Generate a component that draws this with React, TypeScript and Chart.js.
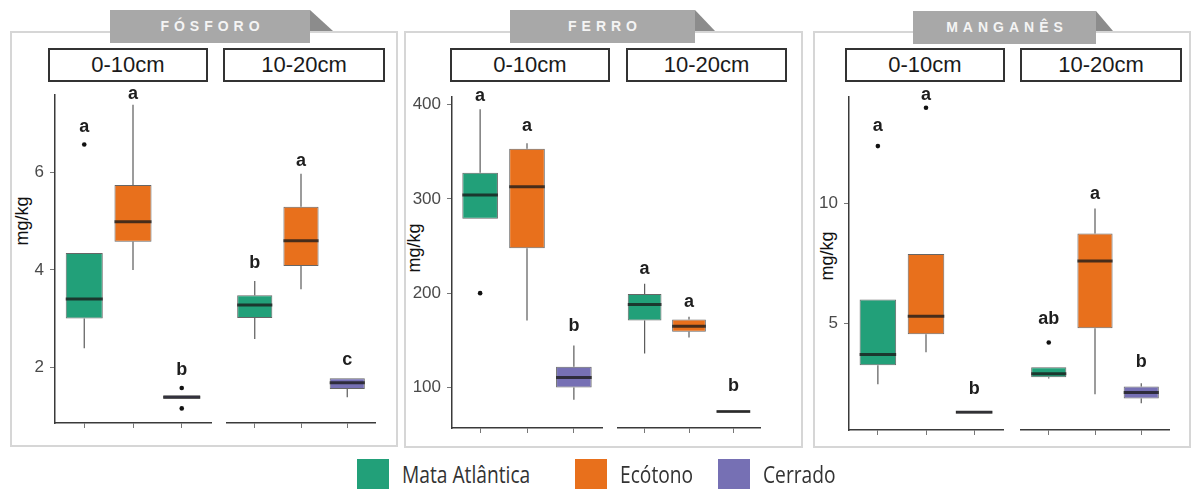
import React, { useEffect, useRef } from "react";
import { Chart, registerables } from "chart.js";

Chart.register(...registerables);

// ---------- data ----------
const categories = ["Mata Atlântica", "Ecótono", "Cerrado"];
const depths = ["0-10cm", "10-20cm"];
const elements = ["FÓSFORO", "FERRO", "MANGANÊS"];
const colors = ["#22a079", "#e8701c", "#7670b4"];
const yTitle = "mg/kg";

// Fósforo  [depth][category]
const fosforoLow = [[2.39, 4.0, 1.35], [2.58, 3.6, 1.38]];
const fosforoQ1 = [[3.0, 4.58, 1.35], [3.01, 4.08, 1.55]];
const fosforoMed = [[3.4, 4.99, 1.38], [3.28, 4.6, 1.68]];
const fosforoQ3 = [[4.35, 5.75, 1.42], [3.48, 5.3, 1.77]];
const fosforoHigh = [[4.35, 7.4, 1.42], [3.77, 5.98, 1.77]];
const fosforoOut = [[[6.58], [], [1.57, 1.15]], [[], [], []]];
const fosforoLetters = [["a", "a", "b"], ["b", "a", "c"]];
const fosforoLetterY = [[6.95, 7.61, 1.94], [4.14, 6.25, 2.14]];
const fosforoTicks = [2, 4, 6];
const fosforoRange = [0.85, 7.6];

// Ferro
const ferroLow = [[278.8, 171, 87], [136, 153, 74]];
const ferroQ1 = [[278.8, 247.7, 100], [171, 159, 73.8]];
const ferroMed = [[304, 312.7, 110.6], [188, 165, 74.5]];
const ferroQ3 = [[327.6, 353, 122], [199, 172, 75.2]];
const ferroHigh = [[395, 359, 144.5], [210, 175, 75.2]];
const ferroOut = [[[200], [], []], [[], [], []]];
const ferroLetters = [["a", "a", "b"], ["a", "a", "b"]];
const ferroLetterY = [[409.5, 377, 164.7], [225.5, 190.5, 101]];
const ferroTicks = [100, 200, 300, 400];
const ferroRange = [57, 408];

// Manganês
const mnLow = [[2.46, 3.8, 1.25], [2.7, 2.04, 1.67]];
const mnQ1 = [[3.25, 4.55, 1.25], [2.75, 4.8, 1.87]];
const mnMed = [[3.7, 5.3, 1.29], [2.9, 7.6, 2.12]];
const mnQ3 = [[6.0, 7.9, 1.35], [3.17, 8.75, 2.37]];
const mnHigh = [[6.0, 7.9, 1.35], [3.17, 9.8, 2.5]];
const mnOut = [[[12.4], [14.0], []], [[4.2], [], []]];
const mnLetters = [["a", "a", "b"], ["ab", "a", "b"]];
const mnLetterY = [[13.25, 14.54, 2.25], [5.17, 10.4, 3.4]];
const mnTicks = [5, 10];
const mnRange = [0.55, 14.45];

// ---------- layout (positions only) ----------
const panels = [
  {
    border: { l: 10, t: 31, w: 388, h: 416 },
    tab: { l: 110, t: 10, w: 200, h: 33 },
    tri: { l: 310, t: 10, w: 23, h: 21 },
    strips: [{ l: 48, w: 160 }, { l: 223, w: 162 }],
    facets: [{ l: 55, w: 156 }, { l: 219, w: 156 }],
    areaTop: 95, areaH: 328, canvasLeft: 12,
    titleC: { x: 22, y: 221 },
  },
  {
    border: { l: 404, t: 31, w: 399, h: 417 },
    tab: { l: 510, t: 10, w: 185, h: 33 },
    tri: { l: 695, t: 10, w: 20, h: 21 },
    strips: [{ l: 450, w: 160 }, { l: 626, w: 161 }],
    facets: [{ l: 452, w: 150 }, { l: 610, w: 150 }],
    areaTop: 97, areaH: 331, canvasLeft: 406,
    titleC: { x: 414, y: 248 },
  },
  {
    border: { l: 813, t: 31, w: 378, h: 417 },
    tab: { l: 913, t: 11, w: 183, h: 33 },
    tri: { l: 1096, t: 11, w: 17, h: 20 },
    strips: [{ l: 845, w: 160 }, { l: 1020, w: 162 }],
    facets: [{ l: 849, w: 154 }, { l: 1013, w: 156 }],
    areaTop: 97, areaH: 333, canvasLeft: 815,
    titleC: { x: 827, y: 256 },
  },
];

const stats = [
  { low: fosforoLow, q1: fosforoQ1, med: fosforoMed, q3: fosforoQ3, high: fosforoHigh, out: fosforoOut, letters: fosforoLetters, letterY: fosforoLetterY, ticks: fosforoTicks, range: fosforoRange },
  { low: ferroLow, q1: ferroQ1, med: ferroMed, q3: ferroQ3, high: ferroHigh, out: ferroOut, letters: ferroLetters, letterY: ferroLetterY, ticks: ferroTicks, range: ferroRange },
  { low: mnLow, q1: mnQ1, med: mnMed, q3: mnQ3, high: mnHigh, out: mnOut, letters: mnLetters, letterY: mnLetterY, ticks: mnTicks, range: mnRange },
];

const FONT = '"Liberation Sans", Arial, sans-serif';

type FacetProps = {
  el: number;
  d: number;
  left: number;
  top: number;
  width: number;
  height: number;
  showY: boolean;
  canvasLeft: number;
};

function Facet({ el, d, left, top, width, height, showY, canvasLeft }: FacetProps) {
  const ref = useRef<HTMLCanvasElement | null>(null);
  const PAD_TOP = 28, X_H = 6, PAD_BOTTOM = 18, SIDE = 8;
  const cl = showY ? canvasLeft : left - SIDE;
  const cw = left + width + SIDE - cl;
  const ct = top - PAD_TOP;
  const ch = PAD_TOP + height + X_H + PAD_BOTTOM;
  const yW = left - cl;

  useEffect(() => {
    const st = stats[el];
    const low = st.low[d], q1 = st.q1[d], med = st.med[d], q3 = st.q3[d], high = st.high[d];
    const out = st.out[d], letters = st.letters[d], letterY = st.letterY[d];

    const extras = {
      id: "boxExtras",
      beforeDatasetsDraw(chart: any) {
        const ctx = chart.ctx;
        const xs = chart.scales.x, ys = chart.scales.y;
        ctx.save();
        ctx.strokeStyle = "#5a5a5a";
        ctx.lineWidth = 1.2;
        categories.forEach((_, i) => {
          const x = xs.getPixelForValue(i + 1);
          if (high[i] > q3[i]) {
            ctx.beginPath();
            ctx.moveTo(x, ys.getPixelForValue(q3[i]));
            ctx.lineTo(x, ys.getPixelForValue(high[i]));
            ctx.stroke();
          }
          if (low[i] < q1[i]) {
            ctx.beginPath();
            ctx.moveTo(x, ys.getPixelForValue(q1[i]));
            ctx.lineTo(x, ys.getPixelForValue(low[i]));
            ctx.stroke();
          }
        });
        ctx.restore();
      },
      afterDatasetsDraw(chart: any) {
        const ctx = chart.ctx;
        const xs = chart.scales.x, ys = chart.scales.y;
        const meta = chart.getDatasetMeta(0);
        ctx.save();
        categories.forEach((_, i) => {
          const x = xs.getPixelForValue(i + 1);
          const bar = meta.data[i] as any;
          const w = bar.width;
          // median
          ctx.strokeStyle = "rgba(25,25,25,0.78)";
          ctx.lineWidth = 3;
          ctx.beginPath();
          const my = ys.getPixelForValue(med[i]);
          ctx.moveTo(x - w / 2, my);
          ctx.lineTo(x + w / 2, my);
          ctx.stroke();
          // outliers
          ctx.fillStyle = "#111";
          out[i].forEach((v: number) => {
            ctx.beginPath();
            ctx.arc(x, ys.getPixelForValue(v), 2.3, 0, Math.PI * 2);
            ctx.fill();
          });
          // letters
          ctx.fillStyle = "#1e1e1e";
          ctx.font = `bold 18px ${FONT}`;
          ctx.textAlign = "center";
          ctx.textBaseline = "middle";
          ctx.fillText(letters[i], x, ys.getPixelForValue(letterY[i]));
        });
        ctx.restore();
      },
    };

    const chart = new Chart(ref.current as HTMLCanvasElement, {
      type: "bar",
      data: {
        datasets: [
          {
            data: q1.map((v: number, i: number) => ({ x: i + 1, y: [v, q3[i]] })) as any,
            backgroundColor: colors,
            borderColor: "rgba(0,0,0,0.6)",
            borderWidth: 1,
            borderSkipped: false,
            barPercentage: 0.76,
            categoryPercentage: 1,
          } as any,
        ],
      },
      options: {
        responsive: false,
        maintainAspectRatio: false,
        animation: false,
        devicePixelRatio: 1,
        layout: {
          padding: { top: PAD_TOP, bottom: PAD_BOTTOM, left: showY ? 0 : SIDE, right: SIDE },
        },
        plugins: { legend: { display: false }, tooltip: { enabled: false } },
        scales: {
          x: {
            type: "linear",
            min: 0.4,
            max: 3.6,
            offset: false,
            afterBuildTicks: (s: any) => {
              s.ticks = categories.map((_, i) => ({ value: i + 1 }));
            },
            ticks: { display: false },
            grid: { offset: false, drawOnChartArea: false, drawTicks: true, tickLength: 5, color: "#777", lineWidth: 1 },
            border: { display: true, color: "#3a3a3a", width: 1.5 },
            afterFit: (s: any) => {
              s.height = X_H;
            },
          } as any,
          y: {
            type: "linear",
            display: showY,
            min: st.range[0],
            max: st.range[1],
            afterBuildTicks: (s: any) => {
              s.ticks = st.ticks.map((v: number) => ({ value: v }));
            },
            ticks: { color: "#4a4a4a", font: { size: 17, family: FONT }, padding: 6 },
            grid: { drawOnChartArea: false, drawTicks: true, tickLength: 5, color: "#777" },
            border: { display: true, color: "#3a3a3a", width: 1.5 },
            afterFit: (s: any) => {
              s.width = yW;
            },
          } as any,
        },
      },
      plugins: [extras as any],
    });
    return () => chart.destroy();
  }, []);

  return (
    <canvas
      ref={ref}
      width={cw}
      height={ch}
      style={{ position: "absolute", left: cl, top: ct, width: cw, height: ch }}
    />
  );
}

export default function App() {
  return (
    <div
      style={{
        position: "absolute",
        left: 0,
        top: 0,
        width: 1194,
        height: 492,
        background: "#fff",
        overflow: "hidden",
        fontFamily: FONT,
      }}
    >
      {panels.map((p, pi) => (
        <React.Fragment key={pi}>
          <div
            style={{
              position: "absolute",
              left: p.border.l,
              top: p.border.t,
              width: p.border.w,
              height: p.border.h,
              border: "2px solid #d6d6d6",
              boxSizing: "border-box",
            }}
          />
          <div
            style={{
              position: "absolute",
              left: p.tab.l,
              top: p.tab.t,
              width: p.tab.w,
              height: p.tab.h,
              background: "#a8a8a8",
              color: "#f4f4f4",
              fontWeight: "bold",
              fontSize: 14,
              letterSpacing: 5,
              lineHeight: `${p.tab.h}px`,
              textAlign: "center",
              paddingLeft: 5,
              boxSizing: "border-box",
            }}
          >
            {elements[pi]}
          </div>
          <div
            style={{
              position: "absolute",
              left: p.tri.l,
              top: p.tri.t,
              width: 0,
              height: 0,
              borderLeft: `${p.tri.w}px solid #8c8c8c`,
              borderTop: `${p.tri.h}px solid transparent`,
            }}
          />
          {p.strips.map((s, si) => (
            <div
              key={si}
              style={{
                position: "absolute",
                left: s.l,
                top: 48,
                width: s.w,
                height: 34,
                border: "2px solid #333",
                boxSizing: "border-box",
                background: "#fff",
                fontSize: 22,
                color: "#1a1a1a",
                lineHeight: "30px",
                textAlign: "center",
              }}
            >
              {depths[si]}
            </div>
          ))}
          <div
            style={{
              position: "absolute",
              left: p.titleC.x - 40,
              top: p.titleC.y - 11,
              width: 80,
              height: 22,
              lineHeight: "22px",
              textAlign: "center",
              fontSize: 18,
              color: "#111",
              transform: "rotate(-90deg)",
            }}
          >
            {yTitle}
          </div>
          {p.facets.map((f, fi) => (
            <Facet
              key={fi}
              el={pi}
              d={fi}
              left={f.l}
              top={p.areaTop}
              width={f.w}
              height={p.areaH}
              showY={fi === 0}
              canvasLeft={p.canvasLeft}
            />
          ))}
        </React.Fragment>
      ))}
      {categories.map((c, i) => {
        const sq = [357, 575, 718][i];
        return (
          <React.Fragment key={c}>
            <div
              style={{
                position: "absolute",
                left: sq,
                top: 459,
                width: 32,
                height: 30,
                background: colors[i],
              }}
            />
            <div
              style={{
                position: "absolute",
                left: sq + 45,
                top: 459,
                height: 30,
                lineHeight: "30px",
                fontFamily: '"Open Sans", sans-serif',
                fontSize: 24,
                color: "#333",
                whiteSpace: "nowrap",
                transform: "scaleX(0.8)",
                transformOrigin: "left center",
              }}
            >
              {c}
            </div>
          </React.Fragment>
        );
      })}
    </div>
  );
}
